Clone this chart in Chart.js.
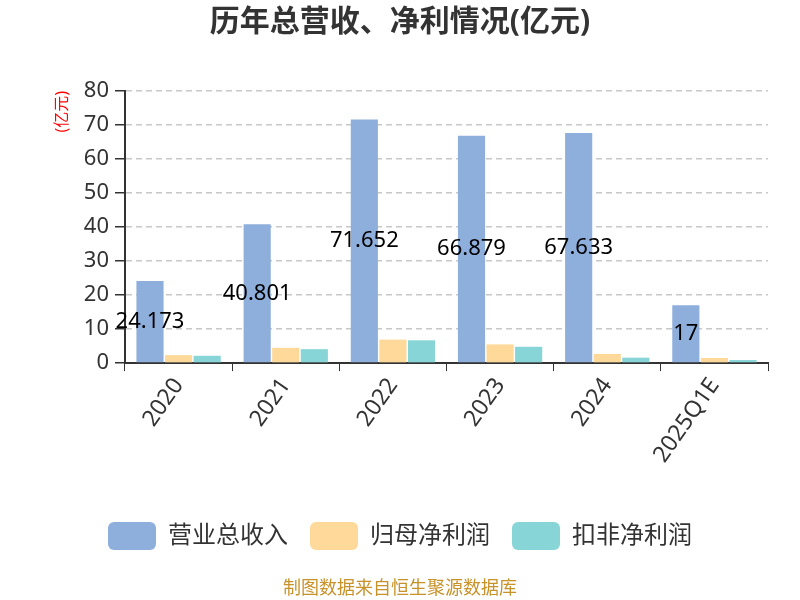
<!DOCTYPE html>
<html>
<head>
<meta charset="utf-8">
<script src="https://cdn.jsdelivr.net/npm/chart.js@4/dist/chart.umd.min.js"></script>
<style>
  html, body { margin: 0; padding: 0; background: #fff; }
</style>
</head>
<body>
<canvas id="chart" width="800" height="600"></canvas>
<script>
// 数据
const categories = ["2020", "2021", "2022", "2023", "2024", "2025Q1E"];
const revenue = [24.173, 40.801, 71.652, 66.879, 67.633, 17];
const netProfit = [2.35, 4.5, 6.9, 5.5, 2.7, 1.5];
const deductedProfit = [2.15, 4.1, 6.7, 4.8, 1.6, 0.9];
const revenueLabels = ["24.173", "40.801", "71.652", "66.879", "67.633", "17"];

const FONT = "'Noto Sans', 'Noto Sans CJK SC', sans-serif";

// 柱子中间的数值标签
const barLabels = {
    id: "barLabels",
    afterDatasetsDraw(chart) {
        const ctx = chart.ctx;
        const meta = chart.getDatasetMeta(0);
        ctx.save();
        ctx.font = "22px " + FONT;
        ctx.fillStyle = "#000";
        ctx.textAlign = "center";
        ctx.textBaseline = "middle";
        meta.data.forEach((bar, i) => {
            const y = (bar.y + bar.base) / 2;
            ctx.fillText(revenueLabels[i], bar.x, y);
        });
        ctx.restore();
    }
};

// 底部来源说明
const footer = {
    id: "footer",
    afterDraw(chart) {
        const ctx = chart.ctx;
        ctx.save();
        ctx.font = "18px " + FONT;
        ctx.fillStyle = "#c8922a";
        ctx.textAlign = "center";
        ctx.textBaseline = "middle";
        ctx.fillText("制图数据来自恒生聚源数据库", chart.width / 2, 589);
        ctx.restore();
    }
};

const config = {
    type: "bar",
    data: {
        labels: categories,
        datasets: [{
            label: "营业总收入",
            data: revenue,
            backgroundColor: "#8eaedb",
            barPercentage: 0.95,
            categoryPercentage: 0.8
        }, {
            label: "归母净利润",
            data: netProfit,
            backgroundColor: "#fed99a",
            barPercentage: 0.95,
            categoryPercentage: 0.8
        }, {
            label: "扣非净利润",
            data: deductedProfit,
            backgroundColor: "#88d5d8",
            barPercentage: 0.95,
            categoryPercentage: 0.8
        }]
    },
    options: {
        responsive: false,
        animation: false,
        layout: {
            padding: { left: 32, right: 32, top: 0, bottom: 40 }
        },
        plugins: {
            title: {
                display: true,
                text: "历年总营收、净利情况(亿元)",
                color: "#333",
                font: { family: FONT, size: 30, weight: "bold" },
                padding: { top: 4, bottom: 51 }
            },
            legend: {
                position: "bottom",
                labels: {
                    color: "#333",
                    font: { family: FONT, size: 24 },
                    boxWidth: 48,
                    boxHeight: 28,
                    useBorderRadius: true,
                    borderRadius: 6,
                    padding: 22
                }
            },
            tooltip: { enabled: false }
        },
        scales: {
            x: {
                grid: {
                    display: true,
                    drawOnChartArea: false,
                    tickLength: 8,
                    tickColor: "#333",
                    offset: true
                },
                border: { color: "#333", width: 2 },
                ticks: {
                    color: "#333",
                    font: { family: FONT, size: 23 },
                    maxRotation: 55,
                    minRotation: 55,
                    padding: 2
                },
                afterFit(scale) {
                    scale.height += 30;
                }
            },
            y: {
                min: 0,
                max: 80,
                ticks: {
                    stepSize: 10,
                    color: "#333",
                    font: { family: FONT, size: 22 },
                    padding: 6
                },
                grid: {
                    color: "#c8c8c8",
                    tickBorderDash: [],
                    tickColor: "#333",
                    tickLength: 10,
                    lineWidth: 1.5
                },
                border: { color: "#333", width: 2, dash: [6, 4] },
                title: {
                    display: true,
                    text: "(亿元)",
                    color: "red",
                    align: "end",
                    font: { family: FONT, size: 16 },
                    padding: { top: 21, bottom: 0 }
                },
                afterFit(scale) {
                    scale.width = 93;
                }
            }
        }
    },
    plugins: [barLabels, footer]
};

new Chart(document.getElementById("chart"), config);
</script>
</body>
</html>
